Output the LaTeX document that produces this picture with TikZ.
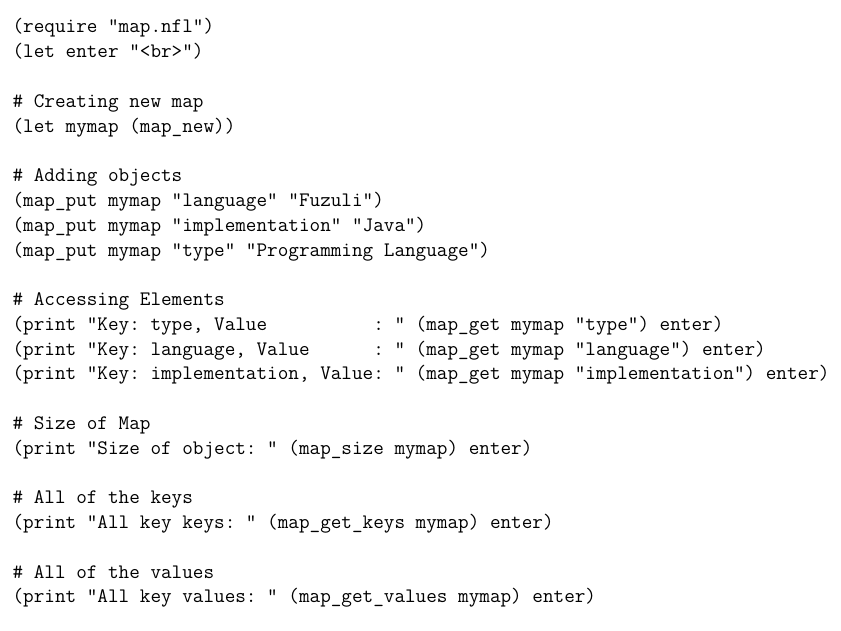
\documentclass[tikz,border=0pt]{standalone}
\usepackage{fontspec}
\frenchspacing
\begin{document}
\begin{tikzpicture}[x=1pt,y=1pt,
  codeline/.style={anchor=base west, inner sep=0pt, text=black,
    font=\fontsize{20.6}{24}\selectfont\ttfamily\frenchspacing}]
\useasboundingbox (0,0) rectangle (841,631);
\fill[white] (0,0) rectangle (841,631);
\node[codeline] (l1)  at (12.4,598.00) {(require "map.nfl")};
\node[codeline] (l2)  at (12.4,573.22) {(let enter "<br>")};
\node[codeline] (l4)  at (12.4,523.66) {\# Creating new map};
\node[codeline] (l5)  at (12.4,498.88) {(let mymap (map\_new))};
\node[codeline] (l7)  at (12.4,449.32) {\# Adding objects};
\node[codeline] (l8)  at (12.4,424.54) {(map\_put mymap "language" "Fuzuli")};
\node[codeline] (l9)  at (12.4,399.76) {(map\_put mymap "implementation" "Java")};
\node[codeline] (l10) at (12.4,374.98) {(map\_put mymap "type" "Programming Language")};
\node[codeline] (l12) at (12.4,325.42) {\# Accessing Elements};
\node[codeline] (l13) at (12.4,300.64) {(print "Key: type, Value\ \ \ \ \ \ \ \ \ \ : " (map\_get mymap "type") enter)};
\node[codeline] (l14) at (12.4,275.86) {(print "Key: language, Value\ \ \ \ \ \ : " (map\_get mymap "language") enter)};
\node[codeline] (l15) at (12.4,251.08) {(print "Key: implementation, Value: " (map\_get mymap "implementation") enter)};
\node[codeline] (l17) at (12.4,201.52) {\# Size of Map};
\node[codeline] (l18) at (12.4,176.74) {(print "Size of object: " (map\_size mymap) enter)};
\node[codeline] (l20) at (12.4,127.18) {\# All of the keys};
\node[codeline] (l21) at (12.4,102.40) {(print "All key keys: " (map\_get\_keys mymap) enter)};
\node[codeline] (l23) at (12.4,52.84) {\# All of the values};
\node[codeline] (l24) at (12.4,28.06) {(print "All key values: " (map\_get\_values mymap) enter)};
\end{tikzpicture}
\end{document}
